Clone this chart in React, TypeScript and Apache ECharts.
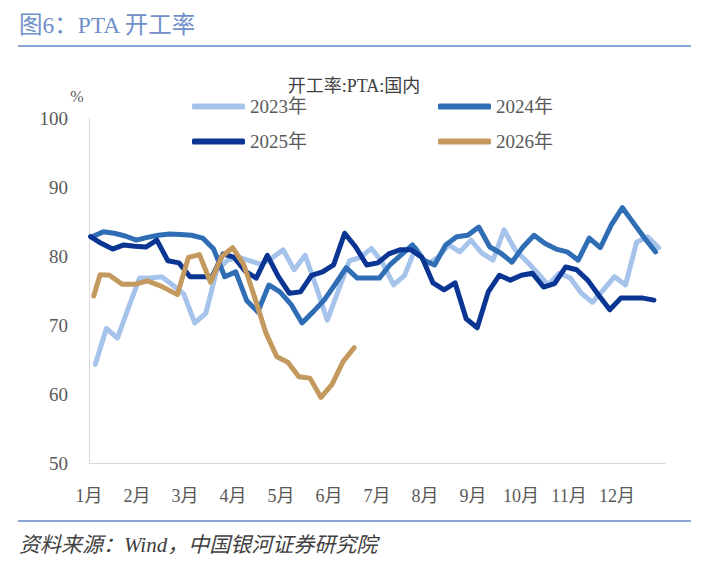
import React, { useEffect, useRef } from 'react';
import * as echarts from 'echarts';

const monthLabels = ['1月', '2月', '3月', '4月', '5月', '6月', '7月', '8月', '9月', '10月', '11月', '12月'];
const seriesNames = ['2023年', '2024年', '2025年', '2026年'];
const seriesColors = ['#a6c3eb', '#2f6db5', '#0b3592', '#c4995e'];

// weekly readings; first reading's day-of-year
const start2023 = 4;
const values2023 = [
  64.3, 69.5, 68.1, 72.5, 76.8, 76.8, 77.0, 75.8, 74.5, 70.3,
  71.7, 78.0, 79.4, 79.8, 79.3, 78.8, 79.7, 80.9, 78.0, 80.1,
  75.5, 70.7, 75.0, 79.3, 79.8, 81.1, 79.0, 75.8, 77.2, 81.2,
  78.7, 79.8, 81.6, 80.6, 82.3, 80.4, 79.4, 83.8, 80.9, 79.3,
  77.6, 75.8, 77.5, 76.8, 74.6, 73.3, 75.1, 77.0, 75.8, 82.0,
  82.8, 81.2,
];

const start2024 = 2;
const values2024 = [
  82.8, 83.5, 83.3, 82.9, 82.3, 82.7, 83.0, 83.2, 83.1, 83.0,
  82.6, 81.0, 77.0, 77.7, 73.5, 71.9, 75.8, 74.8, 73.0, 70.3,
  71.9, 73.6, 75.9, 78.3, 76.8, 76.8, 76.8, 78.8, 80.2, 81.6,
  79.4, 78.7, 81.6, 82.8, 83.0, 84.2, 81.3, 80.4, 79.1, 81.3,
  83.0, 81.8, 81.0, 80.6, 79.4, 82.6, 81.2, 84.5, 87.0, 84.8,
  82.6, 80.6,
];

const start2025 = 1;
const values2025 = [
  82.8, 81.8, 81.0, 81.6, 81.4, 81.3, 82.3, 79.3, 79.0, 77.0,
  77.0, 77.0, 80.3, 79.8, 77.8, 76.8, 80.1, 77.0, 74.6, 74.8,
  77.2, 77.7, 78.7, 83.3, 81.3, 78.7, 79.0, 80.3, 80.9, 80.9,
  79.8, 76.1, 75.1, 76.1, 70.9, 69.6, 74.8, 77.2, 76.5, 77.2,
  77.5, 75.5, 76.0, 78.4, 78.0, 76.5, 74.3, 72.2, 73.9, 73.9,
  73.9, 73.6,
];

const days2026 = [3, 7, 13, 21, 29, 37, 46, 56, 63, 70, 77, 84, 91, 98, 105, 112, 119, 126, 133, 140, 147, 154, 161, 168];
const values2026 = [
  74.2, 77.3, 77.2, 75.9, 75.9, 76.4, 75.6, 74.4, 79.8, 80.2,
  76.2, 79.9, 81.2, 78.8, 74.0, 68.9, 65.4, 64.6, 62.5, 62.3,
  59.5, 61.4, 64.7, 66.7,
];

const DAYS_IN_YEAR = 365;
const toMonth = (day: number) => (day * 12) / DAYS_IN_YEAR;
const weekly = (startDay: number, vals: number[]) => vals.map((v, i) => [toMonth(startDay + 7 * i), v]);
const dated = (days: number[], vals: number[]) => vals.map((v, i) => [toMonth(days[i]), v]);

const SERIF = "'Liberation Serif', 'Times New Roman', 'Noto Sans CJK SC', serif";

export default function App() {
  const ref = useRef<HTMLDivElement>(null);
  useEffect(() => {
    if (!ref.current) return;
    const chart = echarts.init(ref.current, undefined, { renderer: 'svg' });
    const dataSets = [
      weekly(start2023, values2023),
      weekly(start2024, values2024),
      weekly(start2025, values2025),
      dated(days2026, values2026),
    ];
    const legendPos = [
      { left: 192, top: 97 },
      { left: 438, top: 97 },
      { left: 192, top: 132 },
      { left: 438, top: 132 },
    ];
    const option: any = {
      animation: false,
      backgroundColor: '#ffffff',
      grid: { left: 89, right: 55, top: 118, bottom: 116, containLabel: false },
      legend: seriesNames.map((n, i) => ({
        data: [n],
        left: legendPos[i].left,
        top: legendPos[i].top,
        padding: 0,
        itemWidth: 53,
        itemHeight: 6,
        icon: 'roundRect',
        selectedMode: false,
        textStyle: { fontSize: 19, color: '#595959', fontFamily: SERIF, padding: [0, 0, 0, 0] },
      })),
      xAxis: {
        type: 'value',
        min: 0,
        max: 12,
        interval: 1,
        axisLine: { show: true, lineStyle: { color: '#d9d9d9', width: 1 } },
        axisTick: { show: false },
        splitLine: { show: false },
        axisLabel: {
          formatter: (v: number) => (v < 12 ? monthLabels[Math.round(v)] : ''),
          fontSize: 18,
          color: '#595959',
          fontFamily: SERIF,
          margin: 24,
        },
      },
      yAxis: {
        type: 'value',
        min: 50,
        max: 100,
        interval: 10,
        axisLine: { show: true, lineStyle: { color: '#d9d9d9', width: 1 } },
        axisTick: { show: false },
        splitLine: { show: false },
        axisLabel: { fontSize: 19, color: '#595959', fontFamily: SERIF, margin: 21 },
      },
      series: seriesNames.map((n, i) => ({
        name: n,
        type: 'line',
        data: dataSets[i],
        symbol: 'none',
        showSymbol: false,
        z: 2 + i,
        itemStyle: { color: seriesColors[i] },
        lineStyle: { width: 5, color: seriesColors[i], cap: 'round', join: 'round' },
      })),
      graphic: [
        {
          type: 'text',
          x: 19,
          y: 25,
          style: {
            text: '图6：PTA 开工率',
            fontSize: 23.5,
            fontFamily: SERIF,
            fill: '#6f90c9',
            align: 'left',
            verticalAlign: 'middle',
          },
        },
        { type: 'rect', shape: { x: 18, y: 45, width: 673, height: 2 }, style: { fill: '#8ba6d6' } },
        {
          type: 'text',
          x: 354,
          y: 86,
          style: {
            text: '开工率:PTA:国内',
            fontSize: 18,
            fontFamily: SERIF,
            fill: '#404040',
            align: 'center',
            verticalAlign: 'middle',
          },
        },
        {
          type: 'text',
          x: 77,
          y: 96,
          style: { text: '%', fontSize: 16, fontFamily: SERIF, fill: '#595959', align: 'center', verticalAlign: 'middle' },
        },
        { type: 'rect', shape: { x: 18, y: 520, width: 673, height: 2 }, style: { fill: '#8ba6d6' } },
        {
          type: 'text',
          x: 19,
          y: 545,
          style: {
            text: '资料来源：Wind，中国银河证券研究院',
            fontSize: 21,
            fontStyle: 'italic',
            fontFamily: SERIF,
            fill: '#404040',
            align: 'left',
            verticalAlign: 'middle',
          },
        },
      ],
    };
    chart.setOption(option);
    return () => chart.dispose();
  }, []);
  return (
    <div
      ref={ref}
      style={{ position: 'fixed', left: 0, top: 0, width: 720, height: 579, background: '#fff' }}
    />
  );
}
